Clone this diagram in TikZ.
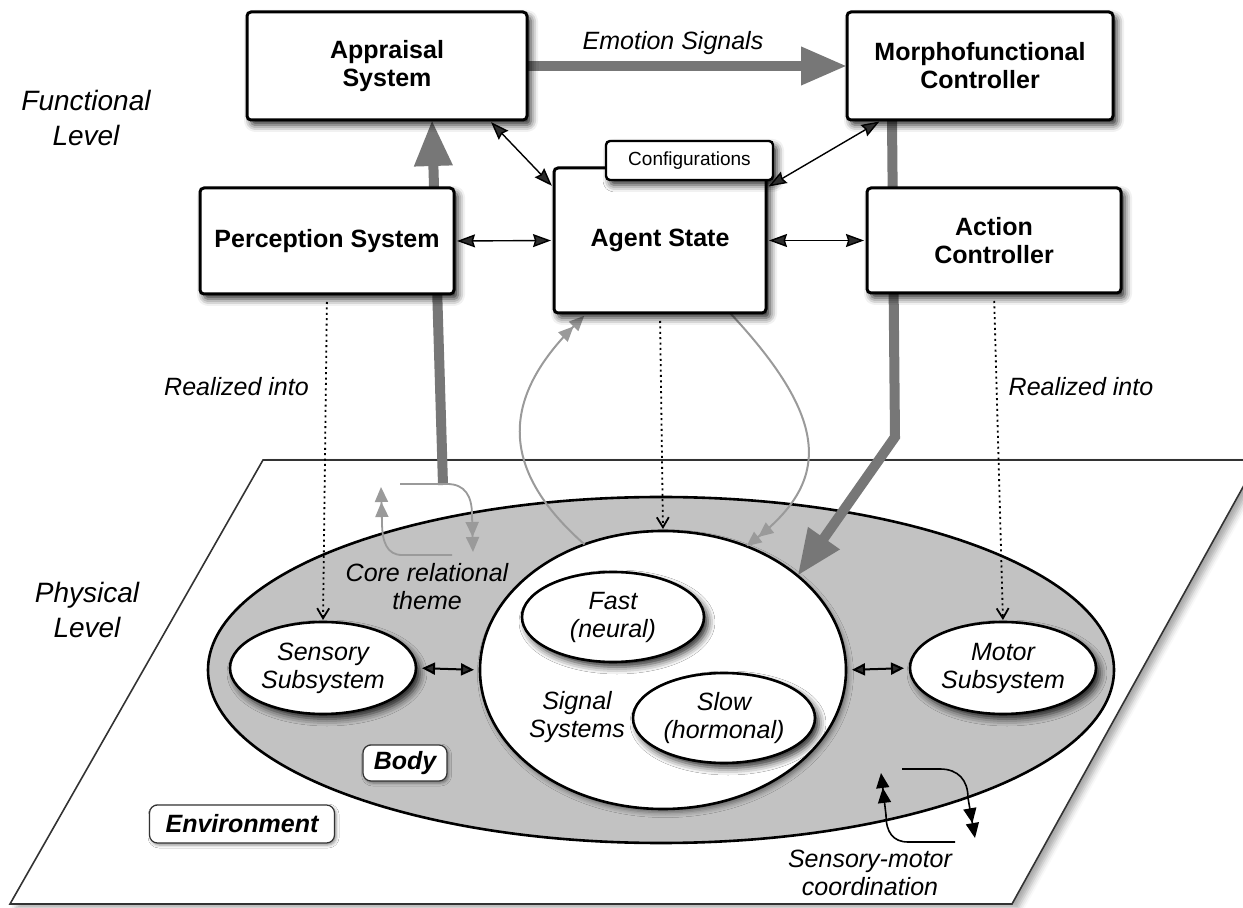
\documentclass[tikz,border=0pt]{standalone}
\usepackage{fontspec}
\setmainfont{Liberation Sans}
\usetikzlibrary{arrows.meta,shapes.geometric,shadows.blur,calc}

\definecolor{bodygray}{HTML}{C2C2C2}
\definecolor{heavygray}{HTML}{777777}
\definecolor{softgray}{HTML}{9A9A9A}

\tikzset{
  every node/.style={inner sep=0pt, outer sep=0pt},
  lbl/.style={font=\fontsize{12.5}{14}\selectfont\itshape, align=center},
  lvl/.style={font=\fontsize{14}{17.5}\selectfont\itshape, align=center},
  softshadow/.style={blur shadow={shadow xshift=2pt, shadow yshift=-2.5pt,
      shadow blur radius=3.5pt, shadow opacity=85}},
  slot/.style={rectangle},
  unit/.style={draw, line width=1.5pt, fill=white, rounded corners=2pt,
      align=center, font=\fontsize{12.5}{14}\selectfont\bfseries, softshadow},
  tabbox/.style={unit, line width=1.2pt, font=\fontsize{9.5}{11}\selectfont},
  part/.style={draw, ellipse, line width=1.3pt, fill=white, align=center,
      font=\fontsize{12.5}{14}\selectfont\itshape, softshadow},
  bodyshape/.style={draw, ellipse, line width=1.3pt, fill=bodygray},
  sigshape/.style={draw, ellipse, line width=1.3pt, fill=white,
      blur shadow={shadow xshift=1.2pt, shadow yshift=-1.8pt, shadow blur radius=2.5pt, shadow opacity=50}},
  tag/.style={draw=black!80, line width=0.6pt, rounded corners=4pt, fill=white,
      font=\fontsize{12.5}{14}\selectfont\bfseries\itshape,
      blur shadow={shadow xshift=0.8pt, shadow yshift=-1pt, shadow blur radius=1.5pt, shadow opacity=45}},
  heavy/.style={draw=heavygray, line width=5pt, -{Triangle[length=23pt,width=18pt]}},
  duplex/.style={line width=0.7pt,
      {Stealth[length=9pt,width=6.5pt,inset=1pt]}-{Stealth[length=9pt,width=6.5pt,inset=1pt]},
      shorten <=1.5pt, shorten >=1.5pt},
  shortduplex/.style={line width=1pt,
      {Triangle[length=6.5pt,width=6pt]}-{Triangle[length=6.5pt,width=6pt]},
      shorten <=3pt, shorten >=3pt},
  realize/.style={line width=0.9pt, dash pattern=on 1pt off 1.7pt,
      -{Straight Barb[length=5pt,width=6pt]}, shorten <=4pt, shorten >=1pt},
  soft/.style={draw=softgray, line width=1pt,
      -{Triangle[length=7.5pt,width=6.5pt] Triangle[length=7.5pt,width=6.5pt]}},
  softloop/.style={draw=softgray, line width=0.9pt,
      -{Triangle[length=7.5pt,width=6.5pt] Triangle[length=7.5pt,width=6.5pt]}},
  blackloop/.style={draw=black, line width=0.8pt,
      -{Triangle[length=7.5pt,width=6.5pt] Triangle[length=7.5pt,width=6.5pt]}},
}

\begin{document}
\begin{tikzpicture}[x=0.5pt, y=-0.5pt]
\useasboundingbox (0,0) rectangle (1243,908);

% ---------- physical plane and body ----------
\draw[line width=0.8pt, draw=black!80, fill=white,
      blur shadow={shadow xshift=3pt, shadow yshift=-2pt, shadow blur radius=3pt, shadow opacity=35}]
  (263,460) -- (1258,460) -- (1012,904) -- (10,904) -- cycle;
\node[bodyshape, minimum width=453pt, minimum height=173pt] (body) at (661,670) {};
\node[sigshape, minimum width=183pt, minimum height=139pt] (sig) at (663,670) {};
\node[part, minimum width=91pt, minimum height=45pt] (fast) at (613,617) {Fast\\(neural)};
\node[part, minimum width=91pt, minimum height=45pt] (slow) at (724,718) {Slow\\(hormonal)};
\node[part, minimum width=93pt, minimum height=46pt] (sens) at (323,668) {Sensory\\Subsystem};
\node[part, minimum width=93pt, minimum height=46pt] (motor) at (1003,668) {Motor\\Subsystem};
\node[lbl] (sigtxt) at (577,717) {Signal\\Systems};
\node[lbl] (core) at (427,587) {Core relational\\theme};
\node[tag, minimum width=42pt, minimum height=18pt] (bodytag) at (405,763) {Body};
\node[tag, minimum width=92.5pt, minimum height=19pt] (env) at (242,824) {Environment};
\node[lbl] (smc) at (870,873) {Sensory-motor\\coordination};

% ---------- outlines of the functional units (drawn further down) ----------
\path node[slot, minimum width=140pt, minimum height=54pt] (appr) at (387,66) {};
\path node[slot, minimum width=133pt, minimum height=54pt] (morph) at (980,66) {};
\path node[slot, minimum width=127pt, minimum height=53pt] (perc) at (327,241) {};
\path node[slot, minimum width=106pt, minimum height=72.5pt] (agent) at (660,240.5) {};
\path node[slot, minimum width=127pt, minimum height=52.5pt] (act) at (994,240.5) {};

% ---------- connectors running under the units ----------
\coordinate (crt) at (443,485);
\coordinate (bend) at (895,437);
\draw[heavy] (crt) -- ([xshift=22.5pt]appr.south);
\draw[heavy] ([xshift=-44pt]morph.south) -- (bend) -- (sig.35);
\draw[heavy] (appr.east) -- (morph.west);

\draw[realize] (perc.south) -- (sens.north);
\draw[realize] (agent.south) -- (sig.north);
\draw[realize] (act.south) -- (motor.north);

\draw[soft, shorten >=2pt] (sig.122) .. controls (500,470) and (500,400) .. ([xshift=-36.5pt]agent.south);
\draw[soft] ([xshift=35pt]agent.south) .. controls (830,420) and (830,480) .. (sig.56);

\draw[shortduplex] (sens.east) -- (sig.west);
\draw[shortduplex] (sig.east) -- (motor.west);

% core relational theme loop
\coordinate (ctA0) at (400,484); \coordinate (ctA1) at (473,552);
\coordinate (ctB0) at (452,555); \coordinate (ctB1) at (381,487);
\draw[softloop] (ctA0) -- (447,484) .. controls (465,484) and (472,496) .. (472,515) -- (ctA1);
\draw[softloop] (ctB0) -- (402,555) .. controls (387,555) and (382,542) .. (382,522) -- (ctB1);

% sensory-motor coordination loop
\coordinate (smA0) at (955,842); \coordinate (smA1) at (881,773);
\coordinate (smB0) at (902,769); \coordinate (smB1) at (975,838);
\draw[blackloop] (smA0) -- (908,842) .. controls (893,842) and (886,832) .. (886,815) -- (smA1);
\draw[blackloop] (smB0) -- (940,769) .. controls (958,769) and (968,780) .. (968,798) -- (smB1);

% ---------- functional units ----------
\node[unit, minimum width=140pt, minimum height=54pt] (appr) at (387,66) {Appraisal\\System};
\node[unit, minimum width=133pt, minimum height=54pt] (morph) at (980,66) {Morphofunctional\\Controller};
\node[unit, minimum width=127pt, minimum height=53pt] (perc) at (327,241) {Perception System};
\node[unit, minimum width=106pt, minimum height=72.5pt] (agent) at (660,240.5) {Agent State};
\node[tabbox, minimum width=83.5pt, minimum height=19.5pt] (conf) at (689.5,160.5) {Configurations};
\node[unit, minimum width=127pt, minimum height=52.5pt] (act) at (994,240.5) {Action\\Controller};

% ---------- level captions and labels ----------
\node[lvl] (funclvl) at (86,118) {Functional\\Level};
\node[lvl] (physlvl) at (87,610) {Physical\\Level};
\node[lbl] (emo) at (673,43) {Emotion Signals};
\node[lbl] (realL) at (236.5,387) {Realized into};
\node[lbl] (realR) at (1081,387) {Realized into};

% ---------- links between the units ----------
\draw[duplex] ([xshift=-19pt]appr.south east) -- ([yshift=-10pt]agent.north west);
\draw[duplex] ([xshift=17.5pt]morph.south west) -- ([yshift=-10pt]agent.north east);
\draw[duplex] (perc.east) -- (agent.west);
\draw[duplex] (agent.east) -- (act.west);
\end{tikzpicture}
\end{document}
